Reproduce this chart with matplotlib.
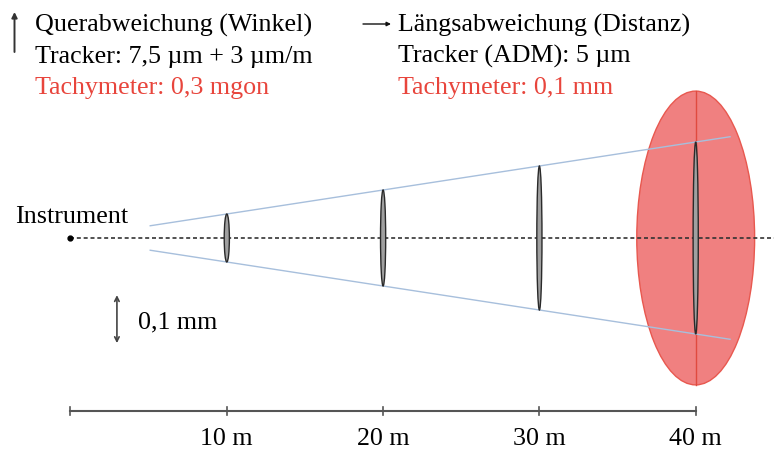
import matplotlib.pyplot as plt
from matplotlib.patches import Ellipse

plt.rcParams['font.family'] = ['Liberation Serif', 'DejaVu Serif']

# Entfernungen und (schematische) Querabweichungen der Tracker-Ellipsen
distanzen = [10, 20, 30, 40]          # m
quer_halb = [0.05, 0.10, 0.15, 0.20]  # mm (halbe Höhe)
tick_labels = ['10 m', '20 m', '30 m', '40 m']

# Tachymeter-Fehlerellipse bei 40 m
tachy_dist = 40        # m
tachy_quer = 0.306     # mm (halbe Höhe)
tachy_laengs = 3.77    # halbe Breite in Zeichnungseinheiten (m-Achse)

kopf_links = ['Querabweichung (Winkel)', 'Tracker: 7,5 µm + 3 µm/m', 'Tachymeter: 0,3 mgon']
kopf_rechts = ['Längsabweichung (Distanz)', 'Tracker (ADM): 5 µm', 'Tachymeter: 0,1 mm']

W, H = 774, 450
fig = plt.figure(figsize=(W / 100, H / 100), dpi=100)
ax = fig.add_axes([0, 0, 1, 1])
# 0 m bei 70.5 px, 15.63 px pro m; Mittellinie bei 238 px, 480 px pro mm
ax.set_xlim(-70.5 / 15.63, (W - 70.5) / 15.63)
ax.set_ylim(-(H - 238) / 480, 238 / 480)
ax.axis('off')

def px(x, y):
    return x / W, 1 - y / H

rot = '#e8453c'
fs = 18.7

# Kegel
k = quer_halb[-1] / distanzen[-1]
x0, x1 = 5.1, 42.2
for s in (1, -1):
    ax.plot([x0, x1], [s * k * x0, s * k * x1], color='#a7bfdc', lw=1.0, zorder=2)

# Tachymeter-Ellipse
ax.add_patch(Ellipse((tachy_dist, 0), 2 * tachy_laengs, 2 * tachy_quer,
                     facecolor='#f08080', edgecolor='#e8584f', lw=1.0, zorder=1))
ax.plot([tachy_dist, tachy_dist], [-tachy_quer, tachy_quer], color='#e04a3f', lw=1.0, zorder=1)

# Mittellinie
ax.plot([0, 50], [0, 0], color='#333333', lw=1.2, linestyle=(0, (2.4, 1.7)), zorder=3)
ax.plot([0], [0], 'o', color='black', ms=3.5, zorder=4)

# Tracker-Ellipsen
for d, h in zip(distanzen, quer_halb):
    ax.add_patch(Ellipse((d, 0), 0.33, 2 * h, facecolor='#a0a0a0',
                         edgecolor='#2a2a2a', lw=1.0, zorder=5))

# Maßstab 0,1 mm
ax.annotate('', xy=(2.97, -0.119), xytext=(2.97, -0.219),
            arrowprops=dict(arrowstyle='<->', color='#444444', lw=1.2,
                            mutation_scale=8, shrinkA=0, shrinkB=0))
fig.text(*px(138, 322), '0,1 mm', fontsize=fs, va='center', ha='left')

fig.text(*px(15, 223), 'Instrument', fontsize=fs, va='baseline', ha='left')

# Entfernungsachse
ya = -(411 - 238) / 480
ax.plot([0, distanzen[-1]], [ya, ya], color='#555555', lw=1.5)
for d in [0] + distanzen:
    ax.plot([d, d], [ya - 0.009, ya + 0.009], color='#555555', lw=1.2)
for d, lab in zip(distanzen, tick_labels):
    ax.text(d, -(445 - 238) / 480, lab, fontsize=fs, ha='center', va='baseline')

# Kopfzeilen
for i, (a, b) in enumerate(zip(kopf_links, kopf_rechts)):
    c = rot if i == 2 else 'black'
    yb = 32 + 31 * i
    fig.text(*px(35, yb), a, fontsize=fs, color=c, va='baseline', ha='left')
    fig.text(*px(398, yb), b, fontsize=fs, color=c, va='baseline', ha='left')

ax.annotate('', xy=px(14.5, 12), xytext=px(14.5, 52), xycoords='figure fraction',
            textcoords='figure fraction',
            arrowprops=dict(arrowstyle='-|>', color='#333333', lw=1.4,
                            mutation_scale=8, shrinkA=0, shrinkB=0))
ax.annotate('', xy=px(391, 24), xytext=px(363, 24), xycoords='figure fraction',
            textcoords='figure fraction',
            arrowprops=dict(arrowstyle='-|>', color='#111111', lw=1.0,
                            mutation_scale=6, shrinkA=0, shrinkB=0))

fig.savefig('out.png', dpi=100)
